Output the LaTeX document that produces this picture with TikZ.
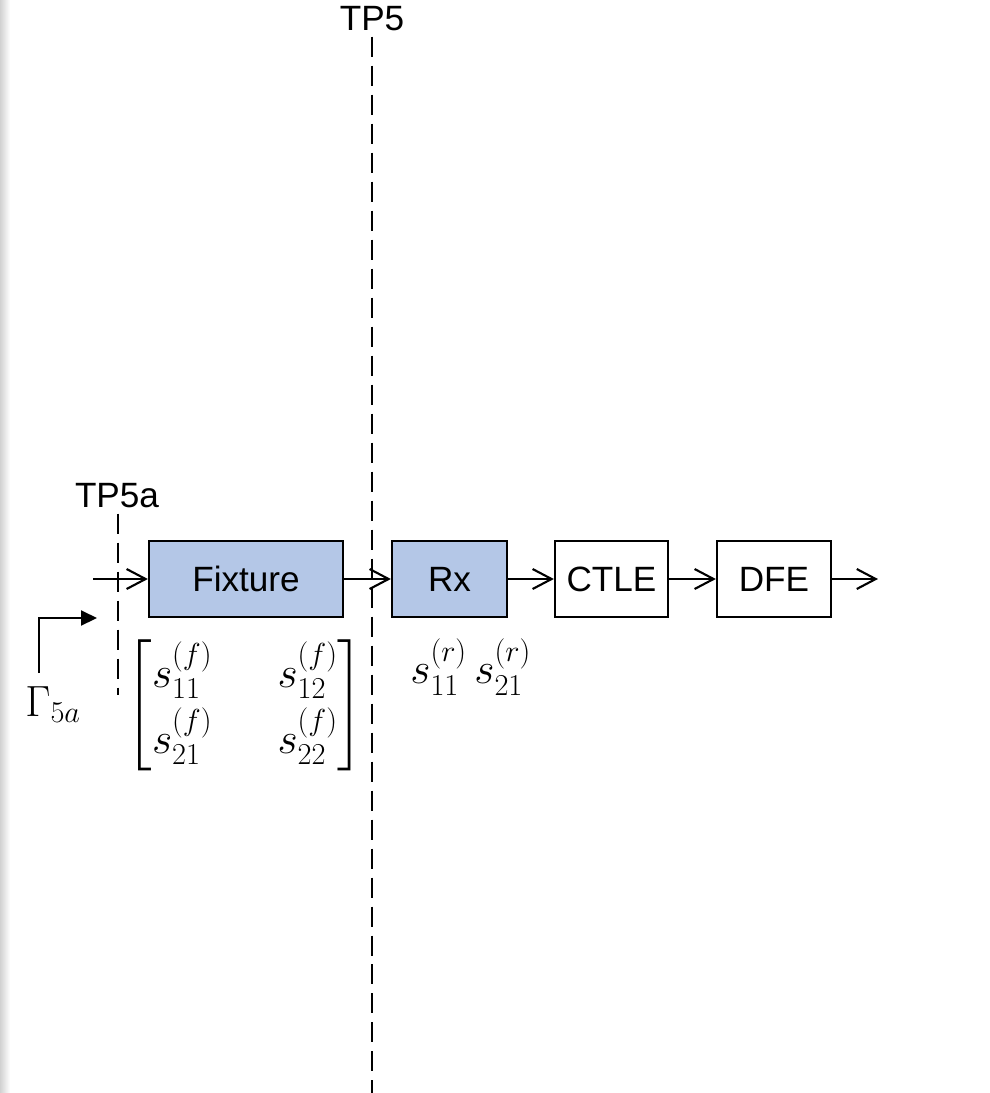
\documentclass[tikz,border=0pt]{standalone}
\usepackage{amsmath}
\usepackage{fontspec}
\setmainfont{Liberation Sans}
\usetikzlibrary{arrows.meta,calc,positioning}
\DeclareMathSizes{24}{24}{18.5}{14}

\begin{document}
\begin{tikzpicture}[x=0.02cm, y=-0.02cm, line cap=butt, line join=miter,
    font=\fontsize{20}{24}\selectfont]
    \useasboundingbox (0,0) rectangle (990,1093);

    \tikzset{
        block/.style={draw=black, line width=1.3pt, minimum height=1.52cm, inner sep=0pt},
        fixblock/.style={block, fill=blockBlue},
        sig/.style={-{Straight Barb[length=3.8mm,width=4mm]}, line width=1.2pt},
        refl/.style={-{Triangle[length=3.2mm,width=3mm]}, line width=1.2pt},
        tpline/.style={draw=black, line width=1.1pt, dash pattern=on 0.4cm off 0.18cm},
        tpLabel/.style={inner sep=0pt, anchor=base},
        mathLabel/.style={inner sep=0pt, font=\fontsize{24}{29}\selectfont}
    }
    \definecolor{blockBlue}{RGB}{180,199,231}

    % Page edge shadow
    \shade[left color=black!18, right color=white] (0,0) rectangle (10,1093);

    % Blocks
    \node[fixblock, minimum width=3.88cm] (fix)  at (246,579) {Fixture};
    \node[fixblock, minimum width=2.30cm] (rx)   at (449.5,579) {Rx};
    \node[block,    minimum width=2.26cm] (ctle) at (611.5,579) {CTLE};
    \node[block,    minimum width=2.28cm] (dfe)  at (774,579) {DFE};

    % Signal path
    \coordinate (in)  at (93,579);
    \coordinate (out) at (878,579);
    \draw[sig] (in) -- (fix.west);
    \draw[sig] (fix.east) -- (rx.west);
    \draw[sig] (rx.east) -- (ctle.west);
    \draw[sig] (ctle.east) -- (dfe.west);
    \draw[sig] (dfe.east) -- (out);

    % Test points
    \node[tpLabel] (tp5)  at (372,30)  {TP5};
    \node[tpLabel] (tp5a) at (117,507) {TP5a};
    \coordinate (tp5end)  at (372,1093);
    \coordinate (tp5aend) at (118,695);
    \draw[tpline] (tp5.south -| tp5end) ++(0,6) -- (tp5end);
    \draw[tpline] (tp5a.south -| tp5aend) ++(0,6) -- (tp5aend);

    % Reflection coefficient
    \coordinate (g0) at (39,673);
    \coordinate (g1) at (39,618);
    \coordinate (g2) at (97,618);
    \draw[refl] (g0) -- (g1) -- (g2);
    \node[mathLabel, anchor=north west] (gam) at (25,686) {$\Gamma_{5a}$};

    % S-parameters
    \node[mathLabel] (sfix) at (245,705)
        {$\begin{bmatrix} s_{11}^{(f)} & \hspace{0.95cm} s_{12}^{(f)} \\[3pt] s_{21}^{(f)} & \hspace{0.95cm} s_{22}^{(f)} \end{bmatrix}$};
    \node[mathLabel, anchor=west] (srx) at (410,667) {$s_{11}^{(r)}\,s_{21}^{(r)}$};
\end{tikzpicture}
\end{document}
